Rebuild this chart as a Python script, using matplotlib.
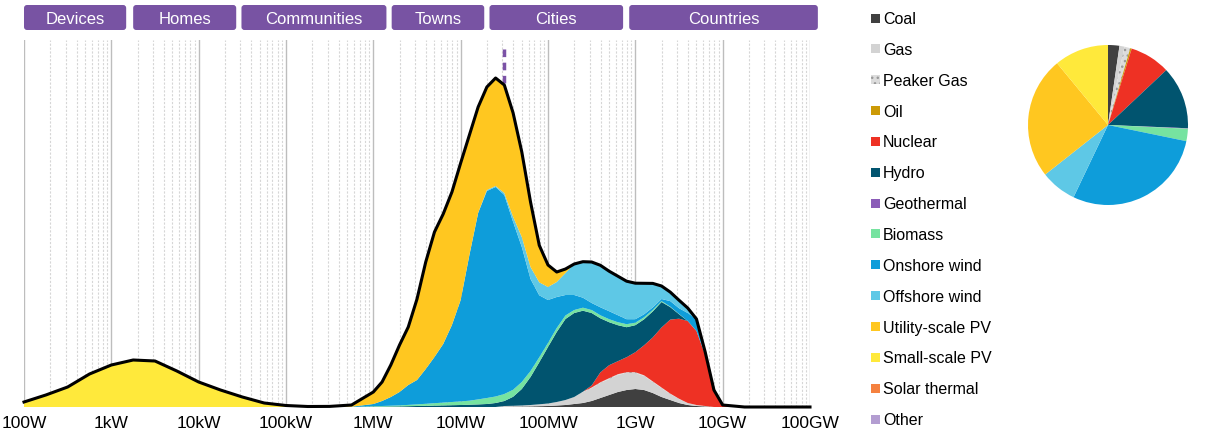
import numpy as np
import matplotlib
matplotlib.use("Agg")
from matplotlib import pyplot as plt
from matplotlib.patches import FancyBboxPatch, Rectangle
from matplotlib.ticker import FixedLocator, NullFormatter
from matplotlib.transforms import IdentityTransform

plt.rcParams['font.family'] = ['Liberation Sans', 'DejaVu Sans']

# power levels (log10 W): coarse below 1MW, fine between 1MW and 10GW, coarse above
log_low = np.arange(2.0, 6.0, 0.25)
log_mid = np.round(np.arange(6.0, 10.01, 0.1), 1)
log_high = np.arange(10.25, 11.01, 0.25)
log_w = np.concatenate([log_low, log_mid, log_high])
power = 10 ** log_w

sources = ["Coal", "Gas", "Peaker Gas", "Oil", "Nuclear", "Hydro", "Geothermal",
           "Biomass", "Onshore wind", "Offshore wind", "Utility-scale PV",
           "Small-scale PV", "Solar thermal", "Other"]
colors = ["#404040", "#D3D3D3", "#DCDCDC", "#CC9A06", "#EE3124", "#01546F", "#8B5CB8",
          "#76E3A0", "#0E9DDA", "#5EC8E6", "#FFC720", "#FFE93B", "#F5813F", "#B39DD1"]

# capacity density (arbitrary units), low band 100W..~600kW
small_pv_low = [5, 12, 20, 33, 42, 47, 46, 36, 25, 17, 10, 4, 1.5, 0.5, 0.3, 0.2]
utility_pv_low = [0, 0, 0, 0, 0, 0, 0, 0, 0, 0, 0, 0, 0, 0, 0.3, 1.5]
onshore_low = [0, 0, 0, 0, 0, 0, 0, 0, 0, 0, 0, 0, 0, 0, 0, 0.3]

# mid band 1MW..10GW in 0.1 decade steps
coal_mid = [0, 0, 0, 0, 0, 0, 0, 0, 0, 0,
            0, 0, 0, 0, 0, 0.3, 0.4, 0.5, 0.6, 0.8,
            1, 1.5, 2, 3, 4, 6, 9, 12, 15, 17,
            18, 17, 14, 10, 7, 4, 2, 1, 0.5, 0, 0]
gas_mid = [0, 0, 0, 0, 0, 0, 0, 0, 0, 0,
           0, 0, 0, 0, 0, 0.7, 0.8, 1.0, 1.4, 1.9,
           2.5, 3.5, 5, 7, 11, 13, 15, 16, 17, 17,
           16, 14, 11, 9, 6, 4, 2, 1, 0.5, 0, 0]
peaker_mid = [0, 0, 0, 0, 0, 0, 0, 0, 0, 0,
              0, 0, 0, 0, 0, 0, 0, 0, 0, 0,
              0, 0, 0, 0, 0.3, 0.5, 0.7, 0.8, 0.8, 0.8,
              0.8, 0.7, 0.6, 0.5, 0.4, 0.3, 0, 0, 0, 0, 0]
nuclear_mid = [0, 0, 0, 0, 0, 0, 0, 0, 0, 0,
               0, 0, 0, 0, 0, 0, 0, 0, 0, 0,
               0, 0, 0, 0, 0, 2, 10, 13, 13, 15,
               20, 30, 44, 60, 74, 80, 82, 74, 51, 16, 1.5]
hydro_mid = [0.3, 0.4, 0.5, 0.6, 0.8, 1.0, 1.2, 1.4, 1.6, 1.8,
             2.0, 2.3, 2.6, 3.0, 4.0, 5, 9, 16.5, 28, 42,
             56.5, 70, 81, 84, 81, 72.5, 54, 43, 36, 30,
             27, 26, 26, 25.5, 12.5, 4.5, 0, 0, 0, 0, 0]
biomass_mid = [0.5, 0.6, 0.8, 1.0, 1.3, 1.6, 2.0, 2.4, 2.8, 3.2,
               3.6, 4.0, 5.0, 6.0, 6.5, 7, 7, 7, 6, 5,
               4, 4, 3.5, 3, 3, 3, 3, 3, 3, 3,
               2.5, 2, 1.5, 1, 0.5, 0.3, 0, 0, 0, 0, 0]
onshore_mid = [2.2, 5, 8.7, 13.4, 19.9, 24.4, 34.8, 46.2, 58.6, 77,
               101.4, 145.7, 186.4, 207, 209.5, 199, 168, 135, 92, 62,
               43, 31, 20.5, 15, 10, 7, 8, 8, 7, 5,
               3.5, 3, 2.5, 2, 5.5, 5.7, 8, 12, 3, 1, 0.5]
offshore_mid = [0, 0, 0, 0, 0, 0, 0, 0, 0, 0,
                0, 0, 0, 1, 1, 2, 5, 10, 12, 13,
                13, 15, 22, 31, 36, 41, 42, 40, 39, 38,
                36, 31, 24, 13, 9, 8, 5, 0, 0, 0, 0]
utility_pv_mid = [12, 19, 32, 47, 58, 81, 107, 125, 130, 133,
                  137, 120, 106, 103, 108, 108, 104, 85, 65, 37,
                  22, 10, 4, 0, 0, 0, 0, 0, 0, 0,
                  0, 0, 0, 0, 0, 0, 0, 0, 0, 0, 0]

# share of total capacity (%), pie
pie_share = [2.3, 1.0, 1.2, 0.3, 8.2, 12.7, 0.1, 2.5, 28.9, 7.3, 24.7, 11.0, 0, 0]

scales = ["Devices", "Homes", "Communities", "Towns", "Cities", "Countries"]
tick_labels = ["100W", "1kW", "10kW", "100kW", "1MW", "10MW", "100MW", "1GW", "10GW", "100GW"]


def full(low=None, mid=None):
    n_low, n_mid, n_high = len(log_low), len(log_mid), len(log_high)
    a = np.zeros(n_low) if low is None else np.array(low, float)
    b = np.zeros(n_mid) if mid is None else np.array(mid, float)
    return np.concatenate([a, b, np.zeros(n_high)])


series = [full(mid=coal_mid), full(mid=gas_mid), full(mid=peaker_mid), full(),
          full(mid=nuclear_mid), full(mid=hydro_mid), full(), full(mid=biomass_mid),
          full(onshore_low, onshore_mid), full(mid=offshore_mid),
          full(utility_pv_low, utility_pv_mid), full(small_pv_low), full(), full()]
total = np.sum(series, axis=0)

W, H = 1207, 434
fig = plt.figure(figsize=(W / 100, H / 100), dpi=100)
ax = fig.add_axes([24 / W, 27 / H, 786 / W, 367 / H])

polys = ax.stackplot(power, *series, colors=colors, linewidth=0)
polys[2].set_hatch('...')
polys[2].set_edgecolor('#9A9A9A')
ax.plot(power, total, color='black', lw=2.2, clip_on=False, zorder=5,
        solid_joinstyle='round')

# median marker
i_med = np.argmin(np.abs(log_w - 7.5))
ax.vlines(power[i_med], total[i_med] + 2, 363, colors='#7B52A6', lw=2.5,
          linestyles=(0, (2.2, 1.6)), zorder=4)

ax.set_xscale('log')
ax.set_xlim(1e2, 1e11)
ax.set_ylim(0, 367)
ax.set_xticks(10.0 ** np.arange(2, 12))
ax.set_xticklabels(tick_labels)
minor = [m * 10.0 ** d for d in range(2, 11) for m in range(2, 10)]
ax.xaxis.set_minor_locator(FixedLocator(minor))
ax.xaxis.set_minor_formatter(NullFormatter())
ax.set_yticks([])
ax.tick_params(axis='x', which='both', length=0, pad=6.5, labelsize=12.5)
ax.grid(which='major', axis='x', color='#BDBDBD', lw=1.0)
ax.grid(which='minor', axis='x', color='#D6D6D6', lw=0.8, ls=(0, (2, 1.5)))
ax.set_axisbelow(True)
for s in ax.spines.values():
    s.set_visible(False)

# scale boxes above the plot
box_edges = [(2.0, 3.17), (3.25, 4.43), (4.49, 6.15), (6.21, 7.27), (7.33, 8.86), (8.93, 11.09)]
for name, (a, b) in zip(scales, box_edges):
    x0 = ax.transData.transform((10 ** a, 0))[0]
    x1 = ax.transData.transform((10 ** b, 0))[0]
    fig.add_artist(FancyBboxPatch((x0, H - 30), x1 - x0, 25,
                                  boxstyle="round,pad=0,rounding_size=3",
                                  facecolor='#7853A3', edgecolor='none',
                                  transform=IdentityTransform()))
    fig.text((x0 + x1) / 2 / W, 1 - 19 / H, name, color='white', fontsize=12,
             ha='center', va='center')

# legend
for i, (name, c) in enumerate(zip(sources, colors)):
    yc = 18 + 30.85 * i
    r = Rectangle((871, H - yc - 4.5), 9, 9, facecolor=c, edgecolor='none',
                  transform=IdentityTransform())
    if name == "Peaker Gas":
        r.set_hatch('...')
        r.set_edgecolor('#9A9A9A')
        r.set_linewidth(0)
    fig.add_artist(r)
    fig.text(883 / W, 1 - (yc + 1.5) / H, name, fontsize=11.5, ha='left', va='center')

# pie
pax = fig.add_axes([1008 / W, (H - 225) / H, 200 / W, 200 / H])
wedges, _ = pax.pie(pie_share, colors=colors, startangle=90, counterclock=False,
                    wedgeprops=dict(linewidth=0))
wedges[2].set_hatch('...')
wedges[2].set_edgecolor('#9A9A9A')
pax.set_aspect('equal')

fig.savefig("out.png", dpi=100)
